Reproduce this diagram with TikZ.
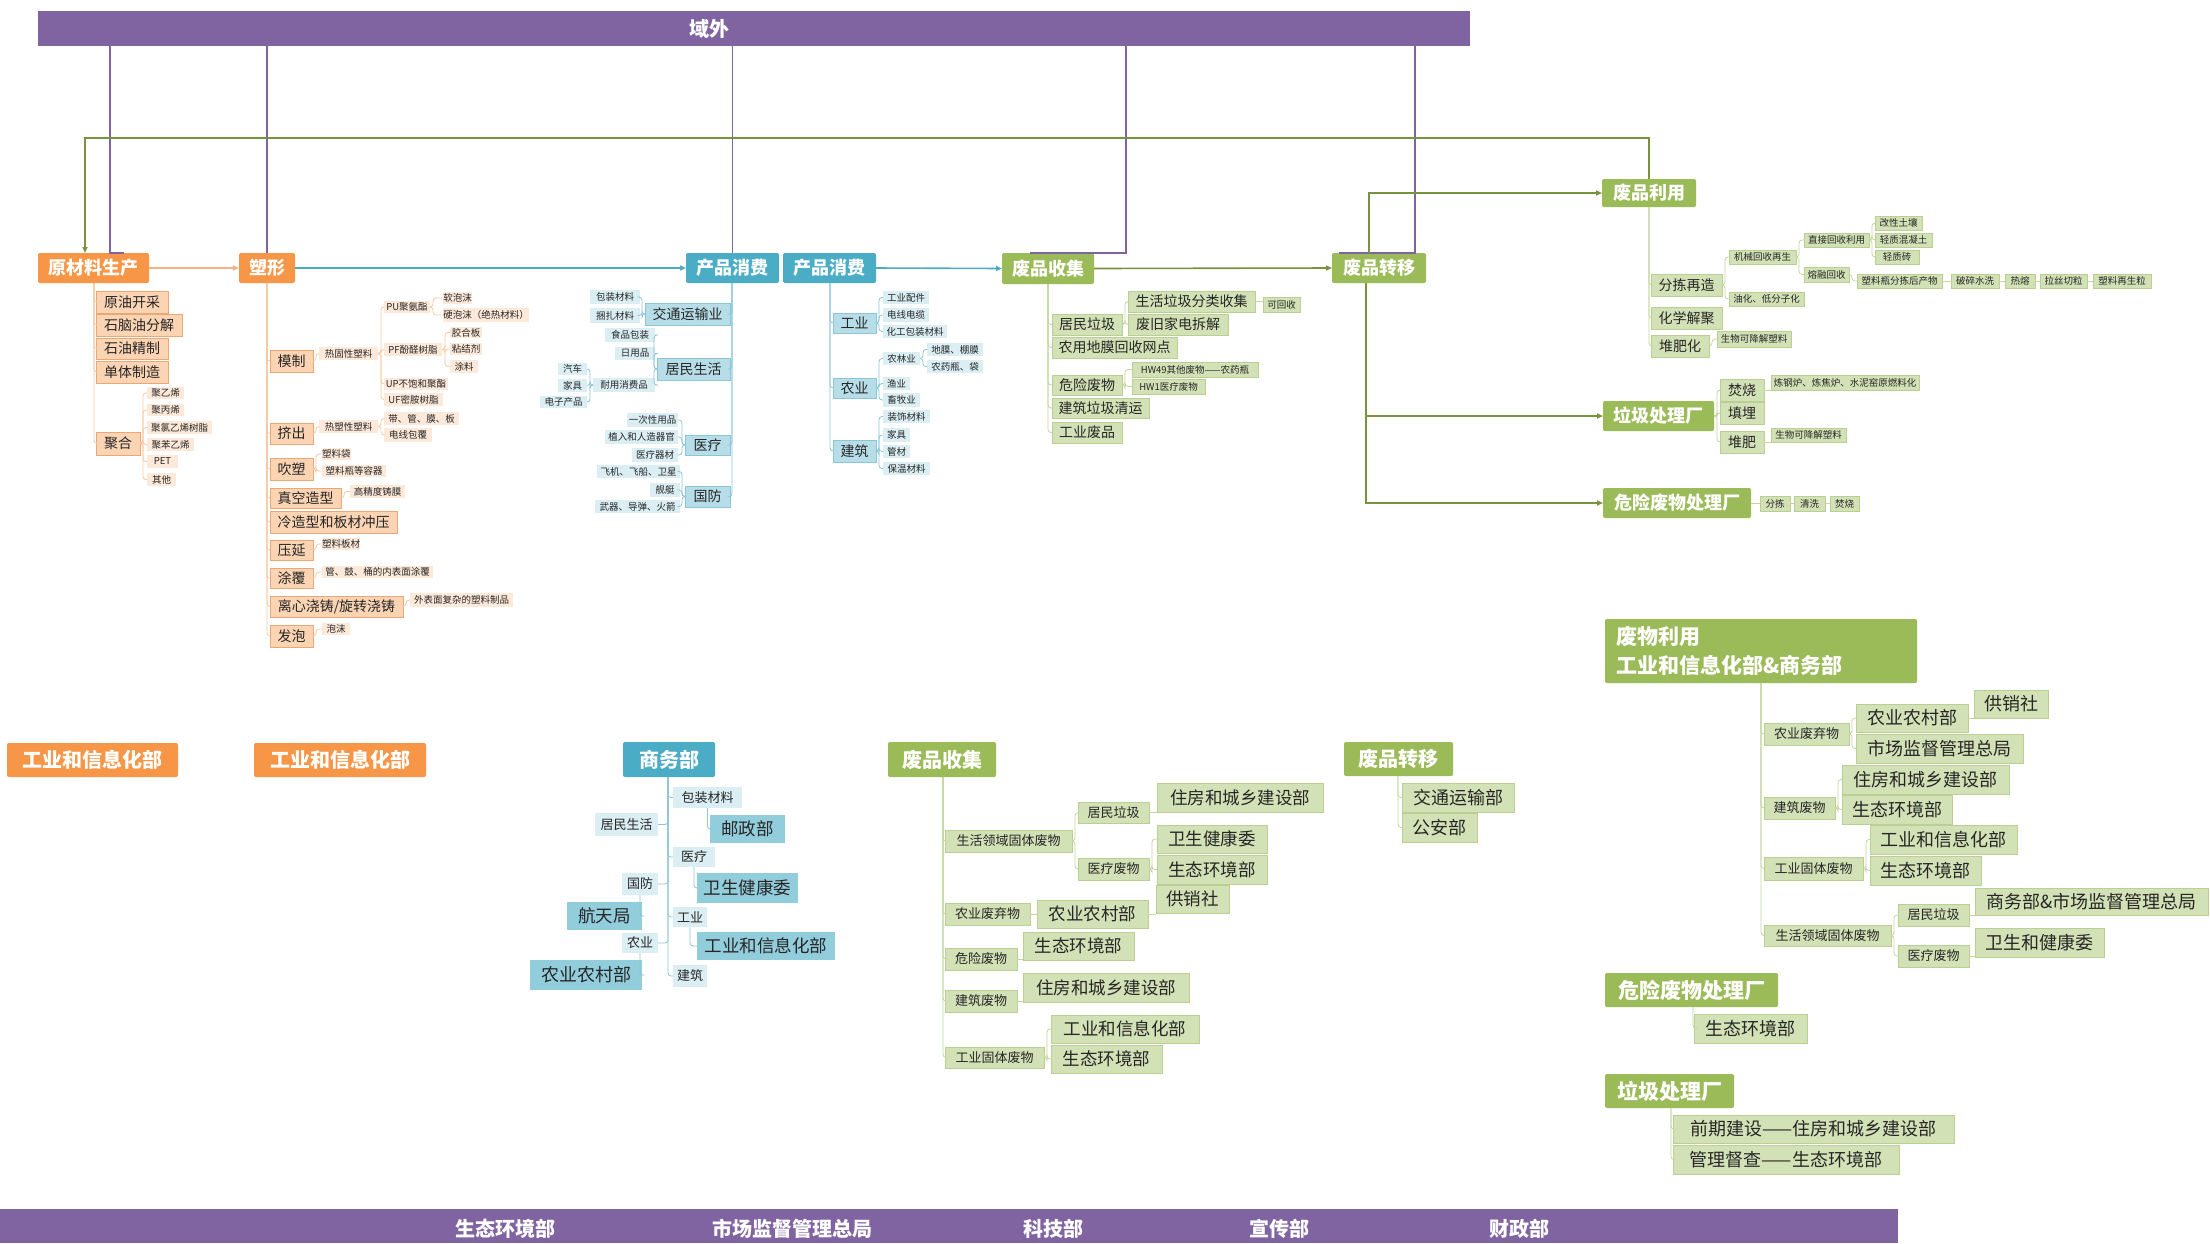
\documentclass[tikz,border=0pt]{standalone}
\usepackage{fontspec}
\setmainfont{Noto Sans CJK SC}
\usetikzlibrary{arrows.meta,calc}
\definecolor{orgH}{HTML}{F79646}
\definecolor{orgS}{HTML}{FBD4B4}
\definecolor{orgB}{HTML}{EBA777}
\definecolor{orgL}{HTML}{FDE9D9}
\definecolor{orgLn}{HTML}{F9C9A2}
\definecolor{orgA}{HTML}{F4B183}
\definecolor{bluH}{HTML}{4BACC6}
\definecolor{bluS}{HTML}{B7DEE8}
\definecolor{bluB}{HTML}{8CC6D6}
\definecolor{bluL}{HTML}{DAEEF3}
\definecolor{bluM}{HTML}{92CDDC}
\definecolor{bluLn}{HTML}{8CC6D6}
\definecolor{grnH}{HTML}{9BBB59}
\definecolor{grnS}{HTML}{D3E1B6}
\definecolor{grnB}{HTML}{BBCF94}
\definecolor{grnL}{HTML}{EBF1DE}
\definecolor{grnLn}{HTML}{C3D69B}
\definecolor{grnA}{HTML}{77933C}
\definecolor{purp}{HTML}{8064A2}
\definecolor{txt}{HTML}{262626}
\newcommand\myfs[1]{\fontsize{#1}{#1}\selectfont}
\newcommand\mybox[7]{\pgfmathsetmacro\mbw{#5-#3}\pgfmathsetmacro\mbh{#6-#4}%
  \node[#1,minimum width=\mbw pt,minimum height=\mbh pt,anchor=north west] (#2) at (#3,#4) {#7};}
\newcommand\brk[3]{\foreach \chn in {#3}{\draw[#1] (#2.east) -- ++(3,0) |- (\chn.west);}}
\newcommand\brkL[3]{\foreach \chn in {#3}{\draw[#1] (#2.west) -- ++(-3,0) |- (\chn.east);}}
\newcommand\trk[3]{\foreach \chn in {#3}{\draw[#1] (#2) |- (\chn.west);}}
\newcommand\trkL[3]{\foreach \chn in {#3}{\draw[#1] (#2) |- (\chn.east);}}
\newcommand\hz[3]{\draw[#1] (#2.east) -- (#2.east -| #3.west);}
\tikzset{
  base/.style={inner sep=0pt, outer sep=0pt, text=txt},
  hd/.style={base, text=white, rounded corners=2pt, font=\bfseries\myfs{18}},
  hdO/.style={hd, fill=orgH},
  hdB/.style={hd, fill=bluH},
  hdG/.style={hd, fill=grnH},
  subO/.style={base, fill=orgS, draw=orgB, line width=0.6pt, font=\myfs{14}},
  subB/.style={base, fill=bluS, draw=bluB, line width=0.6pt, font=\myfs{14}},
  subG/.style={base, fill=grnS, draw=grnB, line width=0.6pt, font=\myfs{14}},
  smO/.style={base, fill=orgL, font=\myfs{9.5}},
  smB/.style={base, fill=bluL, font=\myfs{9.5}},
  smG/.style={base, fill=grnS, draw=grnB, line width=0.5pt, font=\myfs{9.5}},
  bB/.style={base, fill=bluL, font=\myfs{13}},
  bM/.style={base, fill=bluM, font=\myfs{17.5}},
  gS/.style={base, fill=grnS, draw=grnB, line width=0.6pt, font=\myfs{13}},
  gM/.style={base, fill=grnS, draw=grnB, line width=0.6pt, font=\myfs{17.5}},
  ol/.style={draw=orgLn, line width=0.8pt, rounded corners=3pt},
  bl/.style={draw=bluLn, line width=0.8pt, rounded corners=3pt},
  gl/.style={draw=grnLn, line width=0.8pt, rounded corners=3pt},
  pl/.style={draw=purp, line width=1.2pt},
  arO/.style={draw=orgA, line width=1.6pt, -{Triangle[length=6pt,width=5pt]}},
  arB/.style={draw=bluH, line width=1.6pt, -{Triangle[length=6pt,width=5pt]}},
  arG/.style={draw=grnA, line width=1.6pt, -{Triangle[length=6pt,width=5pt]}},
  bartxt/.style={text=white, font=\bfseries\myfs{20}, inner sep=0pt}
}
\begin{document}
\begin{tikzpicture}[x=1pt,y=-1pt]
\useasboundingbox (0,0) rectangle (2210,1243);
\fill[white] (0,0) rectangle (2210,1243);

% ===== bars =====
\mybox{base,fill=purp}{yw}{38}{11}{1470}{46}{}
\node[bartxt] (ywt) at (709,29) {域外};
\mybox{base,fill=purp}{bb}{0}{1209}{1898}{1243}{}
\node[bartxt] (bt1) at (505,1229) {生态环境部};
\node[bartxt] (bt2) at (792,1229) {市场监督管理总局};
\node[bartxt] (bt3) at (1053,1229) {科技部};
\node[bartxt] (bt4) at (1279,1229) {宣传部};
\node[bartxt] (bt5) at (1519,1229) {财政部};

% ===== top row headers =====
\mybox{hdO}{yl}{38}{253}{149}{283}{原材料生产}
\mybox{hdO}{sx}{239}{253}{295}{283}{塑形}
\mybox{hdB}{cp1}{686}{253}{779}{283}{产品消费}
\mybox{hdB}{cp2}{783}{253}{876}{283}{产品消费}
\mybox{hdG}{fs}{1002}{253}{1094}{284}{废品收集}
\mybox{hdG}{fz}{1332}{253}{1426}{283}{废品转移}
\mybox{hdG}{fl}{1602}{179}{1696}{207}{废品利用}
\mybox{hdG}{lj}{1603}{401}{1714}{431}{垃圾处理厂}
\mybox{hdG}{wx}{1603}{488}{1751}{518}{危险废物处理厂}

% ===== 原材料生产 =====
\mybox{subO}{a1}{96}{291}{168}{313}{原油开采}
\mybox{subO}{a2}{96}{314}{182}{336}{石脑油分解}
\mybox{subO}{a3}{96}{338}{168}{359}{石油精制}
\mybox{subO}{a4}{96}{361}{168}{383}{单体制造}
\mybox{subO}{a5}{96}{432}{140}{455}{聚合}
\mybox{smO}{a51}{147}{387}{184}{399}{聚乙烯}
\mybox{smO}{a52}{147}{404}{184}{416}{聚丙烯}
\mybox{smO}{a53}{147}{421}{212}{434}{聚氯乙烯树脂}
\mybox{smO}{a54}{147}{438}{194}{451}{聚苯乙烯}
\mybox{smO}{a55}{147}{455}{178}{468}{PET}
\mybox{smO}{a56}{147}{473}{176}{486}{其他}

% ===== 塑形 =====
\mybox{subO}{b1}{270}{350}{313}{372}{模制}
\mybox{smO}{b11}{319}{347}{378}{360}{热固性塑料}
\mybox{smO}{b111}{384}{301}{430}{313}{PU聚氨酯}
\mybox{smO}{b112}{384}{343}{442}{356}{PF酚醛树脂}
\mybox{smO}{b113}{384}{378}{448}{390}{UP不饱和聚酯}
\mybox{smO}{b114}{384}{393}{443}{406}{UF密胺树脂}
\mybox{smO}{b1111}{443}{292}{472}{304}{软泡沫}
\mybox{smO}{b1112}{443}{308}{529}{322}{硬泡沫（绝热材料）}
\mybox{smO}{b1121}{450}{327}{482}{338}{胶合板}
\mybox{smO}{b1122}{450}{343}{482}{355}{粘结剂}
\mybox{smO}{b1123}{450}{360}{478}{373}{涂料}
\mybox{subO}{b2}{270}{423}{313}{444}{挤出}
\mybox{smO}{b21}{319}{420}{378}{433}{热塑性塑料}
\mybox{smO}{b211}{384}{412}{459}{425}{带、管、膜、板}
\mybox{smO}{b212}{384}{428}{432}{442}{电线包覆}
\mybox{subO}{b3}{270}{458}{313}{480}{吹塑}
\mybox{smO}{b31}{322}{448}{350}{460}{塑料袋}
\mybox{smO}{b32}{322}{465}{386}{477}{塑料瓶等容器}
\mybox{subO}{b4}{270}{488}{341}{508}{真空造型}
\mybox{smO}{b41}{350}{485}{405}{498}{高精度铸膜}
\mybox{subO}{b5}{270}{511}{397}{533}{冷造型和板材冲压}
\mybox{subO}{b6}{270}{540}{313}{560}{压延}
\mybox{smO}{b61}{322}{538}{358}{550}{塑料板材}
\mybox{subO}{b7}{270}{568}{313}{588}{涂覆}
\mybox{smO}{b71}{322}{566}{433}{578}{管、鼓、桶的内表面涂覆}
\mybox{subO}{b8}{270}{596}{403}{617}{离心浇铸/旋转浇铸}
\mybox{smO}{b81}{410}{593}{513}{607}{外表面复杂的塑料制品}
\mybox{subO}{b9}{270}{625}{313}{647}{发泡}
\mybox{smO}{b91}{322}{623}{350}{635}{泡沫}

% ===== 产品消费 left =====
\mybox{subB}{c1}{645}{303}{730}{325}{交通运输业}
\mybox{smB}{c11}{590}{290}{640}{304}{包装材料}
\mybox{smB}{c12}{590}{308}{640}{323}{捆扎材料}
\mybox{subB}{c2}{657}{358}{730}{380}{居民生活}
\mybox{smB}{c21}{605}{328}{655}{342}{食品包装}
\mybox{smB}{c22}{615}{347}{655}{360}{日用品}
\mybox{smB}{c23}{593}{378}{655}{392}{耐用消费品}
\mybox{smB}{c231}{558}{363}{587}{375}{汽车}
\mybox{smB}{c232}{558}{379}{587}{392}{家具}
\mybox{smB}{c233}{540}{396}{587}{408}{电子产品}
\mybox{subB}{c3}{685}{435}{730}{455}{医疗}
\mybox{smB}{c31}{627}{413}{678}{427}{一次性用品}
\mybox{smB}{c32}{605}{430}{678}{444}{植入和人造器官}
\mybox{smB}{c33}{632}{448}{678}{462}{医疗器材}
\mybox{subB}{c4}{685}{486}{730}{507}{国防}
\mybox{smB}{c41}{597}{465}{680}{478}{飞机、飞船、卫星}
\mybox{smB}{c42}{650}{483}{680}{497}{舰艇}
\mybox{smB}{c43}{595}{500}{680}{513}{武器、导弹、火箭}

% ===== 产品消费 right =====
\mybox{subB}{d1}{833}{313}{876}{333}{工业}
\mybox{smB}{d11}{883}{291}{929}{304}{工业配件}
\mybox{smB}{d12}{883}{308}{929}{322}{电线电缆}
\mybox{smB}{d13}{883}{325}{947}{338}{化工包装材料}
\mybox{subB}{d2}{833}{378}{876}{398}{农业}
\mybox{smB}{d21}{883}{352}{920}{365}{农林业}
\mybox{smB}{d22}{883}{377}{910}{390}{渔业}
\mybox{smB}{d23}{883}{393}{920}{407}{畜牧业}
\mybox{smB}{d211}{927}{343}{983}{356}{地膜、棚膜}
\mybox{smB}{d212}{927}{360}{983}{373}{农药瓶、袋}
\mybox{subB}{d3}{833}{440}{876}{462}{建筑}
\mybox{smB}{d31}{883}{410}{930}{423}{装饰材料}
\mybox{smB}{d32}{883}{428}{910}{442}{家具}
\mybox{smB}{d33}{883}{445}{910}{458}{管材}
\mybox{smB}{d34}{883}{462}{930}{475}{保温材料}

% ===== 废品收集 top =====
\mybox{subG}{e1}{1052}{314}{1122}{335}{居民垃圾}
\mybox{subG}{e11}{1128}{291}{1255}{312}{生活垃圾分类收集}
\mybox{smG}{e111}{1263}{297}{1300}{312}{可回收}
\mybox{subG}{e12}{1128}{314}{1228}{335}{废旧家电拆解}
\mybox{subG}{e2}{1052}{337}{1177}{358}{农用地膜回收网点}
\mybox{subG}{e3}{1052}{375}{1122}{395}{危险废物}
\mybox{smG}{e31}{1132}{362}{1258}{377}{HW49其他废物——农药瓶}
\mybox{smG}{e32}{1132}{379}{1205}{394}{HW1医疗废物}
\mybox{subG}{e4}{1052}{398}{1149}{418}{建筑垃圾清运}
\mybox{subG}{e5}{1052}{422}{1122}{443}{工业废品}

% ===== 废品利用 =====
\mybox{subG}{f1}{1651}{274}{1722}{296}{分拣再造}
\mybox{subG}{f2}{1651}{307}{1722}{329}{化学解聚}
\mybox{subG}{f3}{1651}{335}{1709}{357}{堆肥化}
\mybox{smG}{f11}{1729}{250}{1796}{264}{机械回收再生}
\mybox{smG}{f12}{1729}{292}{1804}{306}{油化、低分子化}
\mybox{smG}{f111}{1804}{233}{1869}{247}{直接回收利用}
\mybox{smG}{f112}{1804}{267}{1849}{282}{熔融回收}
\mybox{smG}{f1111}{1875}{216}{1922}{230}{改性土壤}
\mybox{smG}{f1112}{1875}{233}{1932}{247}{轻质混凝土}
\mybox{smG}{f1113}{1875}{250}{1919}{264}{轻质砖}
\mybox{smG}{g1}{1857}{274}{1942}{288}{塑料瓶分拣后产物}
\mybox{smG}{g2}{1951}{274}{1999}{288}{破碎水洗}
\mybox{smG}{g3}{2005}{274}{2035}{288}{热熔}
\mybox{smG}{g4}{2040}{274}{2087}{288}{拉丝切粒}
\mybox{smG}{g5}{2093}{274}{2151}{288}{塑料再生粒}
\mybox{smG}{f31}{1717}{331}{1791}{347}{生物可降解塑料}

% ===== 垃圾处理厂 / 危险废物处理厂 =====
\mybox{subG}{h1}{1720}{379}{1764}{401}{焚烧}
\mybox{subG}{h2}{1720}{402}{1764}{424}{填埋}
\mybox{subG}{h3}{1720}{431}{1764}{453}{堆肥}
\mybox{smG}{h11}{1771}{375}{1919}{390}{炼钢炉、炼焦炉、水泥窑原燃料化}
\mybox{smG}{h31}{1771}{428}{1846}{442}{生物可降解塑料}
\mybox{smG}{i1}{1760}{496}{1790}{511}{分拣}
\mybox{smG}{i2}{1794}{496}{1825}{511}{清洗}
\mybox{smG}{i3}{1830}{496}{1859}{511}{焚烧}

% ===== bottom: orange =====
\mybox{hdO,font=\bfseries\myfs{20}}{gx1}{7}{743}{178}{777}{工业和信息化部}
\mybox{hdO,font=\bfseries\myfs{20}}{gx2}{254}{743}{426}{777}{工业和信息化部}

% ===== bottom: 商务部 =====
\mybox{hdB,font=\bfseries\myfs{20}}{sw}{623}{742}{715}{777}{商务部}
\mybox{bB}{j1}{673}{787}{742}{808}{包装材料}
\mybox{bB}{j2}{673}{847}{715}{867}{医疗}
\mybox{bB}{j3}{673}{907}{707}{927}{工业}
\mybox{bB}{j4}{673}{965}{707}{987}{建筑}
\mybox{bM}{jy}{710}{815}{785}{843}{邮政部}
\mybox{bM}{jw}{697}{873}{798}{903}{卫生健康委}
\mybox{bM}{jg}{697}{932}{835}{960}{工业和信息化部}
\mybox{bB}{k1}{595}{813}{658}{836}{居民生活}
\mybox{bB}{k2}{622}{873}{658}{895}{国防}
\mybox{bB}{k3}{622}{933}{658}{953}{农业}
\mybox{bM}{kh}{567}{902}{642}{930}{航天局}
\mybox{bM,font=\myfs{18}}{kn}{530}{960}{642}{990}{农业农村部}

% ===== bottom: 废品收集 =====
\mybox{hdG,font=\bfseries\myfs{20}}{fs2}{888}{742}{996}{777}{废品收集}
\mybox{gS}{l1}{945}{830}{1072}{852}{生活领域固体废物}
\mybox{gS}{l11}{1078}{802}{1149}{823}{居民垃圾}
\mybox{gS}{l12}{1078}{858}{1149}{880}{医疗废物}
\mybox{gM}{m1}{1157}{783}{1323}{812}{住房和城乡建设部}
\mybox{gM}{m2}{1157}{825}{1267}{853}{卫生健康委}
\mybox{gM}{m3}{1157}{855}{1267}{884}{生态环境部}
\mybox{gM}{m4}{1156}{885}{1229}{913}{供销社}
\mybox{gS}{l2}{945}{903}{1030}{925}{农业废弃物}
\mybox{gM}{m5}{1037}{900}{1148}{928}{农业农村部}
\mybox{gS}{l3}{945}{948}{1017}{970}{危险废物}
\mybox{gM}{m6}{1023}{932}{1134}{960}{生态环境部}
\mybox{gS}{l4}{945}{990}{1017}{1012}{建筑废物}
\mybox{gM}{m7}{1023}{973}{1189}{1002}{住房和城乡建设部}
\mybox{gS}{l5}{945}{1047}{1044}{1068}{工业固体废物}
\mybox{gM}{m8}{1051}{1015}{1199}{1043}{工业和信息化部}
\mybox{gM}{m9}{1051}{1045}{1162}{1073}{生态环境部}

% ===== bottom: 废品转移 =====
\mybox{hdG,font=\bfseries\myfs{20}}{fz2}{1344}{742}{1453}{776}{废品转移}
\mybox{gM,font=\myfs{18}}{n1}{1402}{783}{1514}{812}{交通运输部}
\mybox{gM,font=\myfs{18}}{n2}{1402}{813}{1477}{842}{公安部}

% ===== bottom right =====
\node[hdG, font=\bfseries\fontsize{21}{29}\selectfont, align=left, text width=290pt,
      inner xsep=11pt, minimum height=64pt, anchor=north west] (fw) at (1605,619)
      {废物利用\\工业和信息化部\&商务部};
\mybox{gS}{o1}{1764}{723}{1849}{745}{农业废弃物}
\mybox{gM,font=\myfs{18}}{p1}{1856}{704}{1968}{732}{农业农村部}
\mybox{gM,font=\myfs{18}}{p3}{1974}{690}{2048}{718}{供销社}
\mybox{gM,font=\myfs{18}}{p2}{1856}{734}{2023}{763}{市场监督管理总局}
\mybox{gS}{o2}{1764}{797}{1835}{819}{建筑废物}
\mybox{gM,font=\myfs{18}}{p4}{1842}{765}{2009}{794}{住房和城乡建设部}
\mybox{gM,font=\myfs{18}}{p5}{1842}{795}{1952}{824}{生态环境部}
\mybox{gS}{o3}{1764}{857}{1863}{880}{工业固体废物}
\mybox{gM,font=\myfs{18}}{p6}{1870}{825}{2017}{854}{工业和信息化部}
\mybox{gM,font=\myfs{18}}{p7}{1870}{856}{1981}{885}{生态环境部}
\mybox{gS}{o4}{1764}{925}{1891}{946}{生活领域固体废物}
\mybox{gS}{q1}{1898}{904}{1969}{926}{居民垃圾}
\mybox{gS}{q2}{1898}{945}{1969}{967}{医疗废物}
\mybox{gM,font=\myfs{18}}{q11}{1975}{888}{2208}{915}{商务部\&市场监督管理总局}
\mybox{gM,font=\myfs{18}}{q21}{1975}{928}{2104}{957}{卫生和健康委}
\mybox{hdG,font=\bfseries\myfs{21}}{wx2}{1605}{973}{1778}{1007}{危险废物处理厂}
\mybox{gM,font=\myfs{18}}{r1}{1694}{1014}{1807}{1043}{生态环境部}
\mybox{hdG,font=\bfseries\myfs{21}}{lj2}{1605}{1074}{1734}{1108}{垃圾处理厂}
\mybox{gM,font=\myfs{18}}{s1}{1673}{1115}{1954}{1143}{前期建设——住房和城乡建设部}
\mybox{gM,font=\myfs{18}}{s2}{1673}{1145}{1899}{1174}{管理督查——生态环境部}

% ===== connectors: top level =====
\coordinate (u1) at (110,46);
\coordinate (u4) at (1126,46);
\coordinate (u5) at (1415,46);
\draw[pl] (u1) |- ([xshift=30pt]yl.north);
\draw[pl] (yw.south -| sx.north) -- (sx.north);
\draw[pl] (yw.south -| cp1.north) -- (cp1.north);
\draw[pl] (u4) |- ([xshift=-18pt]fs.north);
\draw[pl] (u5) |- ([xshift=-40pt]fz.north);

\coordinate (fb) at (85,138);
\draw[arG] (fl.north) |- (fb) -- ([xshift=-8.5pt]yl.north);
\draw[arG] ([xshift=-10pt]fz.north) |- (fl.west);
\draw[arG] ([xshift=-13pt]fz.south) |- (lj.west);
\draw[arG] ([xshift=-13pt]fz.south) |- (wx.west);

\draw[arO] (yl.east) -- (sx.west);
\draw[arB] (sx.east) -- (cp1.west);
\draw[arB] (cp2.east) -- (fs.west);
\draw[arG] (fs.east) -- (fz.west);

% 原材料生产
\coordinate (t1) at (94,283);
\trk{ol}{t1}{a1,a2,a3,a4,a5}
\brk{ol}{a5}{a51,a52,a53,a54,a55,a56}
% 塑形
\coordinate (t2) at (267,283);
\trk{ol}{t2}{b1,b2,b3,b4,b5,b6,b7,b8,b9}
\brk{ol}{b1}{b11}
\brk{ol}{b11}{b111,b112,b113,b114}
\brk{ol}{b111}{b1111,b1112}
\brk{ol}{b112}{b1121,b1122,b1123}
\brk{ol}{b2}{b21}
\brk{ol}{b21}{b211,b212}
\brk{ol}{b3}{b31,b32}
\brk{ol}{b4}{b41}
\brk{ol}{b6}{b61}
\brk{ol}{b7}{b71}
\brk{ol}{b8}{b81}
\brk{ol}{b9}{b91}
% 产品消费 left
\coordinate (t3) at (732,283);
\trkL{bl}{t3}{c1,c2,c3,c4}
\brkL{bl}{c1}{c11,c12}
\brkL{bl}{c2}{c21,c22,c23}
\brkL{bl}{c23}{c231,c232,c233}
\brkL{bl}{c3}{c31,c32,c33}
\brkL{bl}{c4}{c41,c42,c43}
% 产品消费 right
\coordinate (t4) at (830,283);
\trk{bl}{t4}{d1,d2,d3}
\brk{bl}{d1}{d11,d12,d13}
\brk{bl}{d2}{d21,d22,d23}
\brk{bl}{d21}{d211,d212}
\brk{bl}{d3}{d31,d32,d33,d34}
% 废品收集
\coordinate (t5) at (1048,284);
\trk{gl}{t5}{e1,e2,e3,e4,e5}
\brk{gl}{e1}{e11,e12}
\hz{gl}{e11}{e111}
\brk{gl}{e3}{e31,e32}
% 废品利用
\coordinate (t6) at (1649,207);
\trk{gl}{t6}{f1,f2,f3}
\brk{gl}{f1}{f11,f12}
\brk{gl}{f11}{f111,f112}
\brk{gl}{f111}{f1111,f1112,f1113}
\brk{gl}{f112}{g1}
\hz{gl}{g1}{g2}
\hz{gl}{g2}{g3}
\hz{gl}{g3}{g4}
\hz{gl}{g4}{g5}
\brk{gl}{f3}{f31}
% 垃圾处理厂
\brk{gl}{lj}{h1,h2,h3}
\hz{gl}{h1}{h11}
\hz{gl}{h3}{h31}
\hz{gl}{wx}{i1}
\hz{gl}{i1}{i2}
\hz{gl}{i2}{i3}

% bottom 商务部
\coordinate (t7) at (668,777);
\trk{bl}{t7}{j1,j2,j3,j4}
\trkL{bl}{t7}{k1,k2,k3}
\draw[bl] (j1.south) |- (jy.west);
\draw[bl] (j2.south) |- (jw.west);
\draw[bl] (j3.south) |- (jg.west);
\draw[bl] (k2.south) |- (kh.east);
\draw[bl] (k3.south) |- (kn.east);
% bottom 废品收集
\coordinate (t8) at (943,777);
\trk{gl}{t8}{l1,l2,l3,l4,l5}
\brk{gl}{l1}{l11,l12}
\hz{gl}{l11}{m1}
\brk{gl}{l12}{m2,m3}
\hz{gl}{l2}{m5}
\hz{gl}{m5}{m4}
\hz{gl}{l3}{m6}
\hz{gl}{l4}{m7}
\brk{gl}{l5}{m8,m9}
% bottom 废品转移
\coordinate (t9) at (1398,776);
\trk{gl}{t9}{n1,n2}
% bottom right
\coordinate (t10) at (1761,683);
\trk{gl}{t10}{o1,o2,o3,o4}
\brk{gl}{o1}{p1,p2}
\hz{gl}{p1}{p3}
\brk{gl}{o2}{p4,p5}
\brk{gl}{o3}{p6,p7}
\brk{gl}{o4}{q1,q2}
\hz{gl}{q1}{q11}
\hz{gl}{q2}{q21}
\coordinate (t11) at (1693,1007);
\trk{gl}{t11}{r1}
\coordinate (t12) at (1671,1108);
\trk{gl}{t12}{s1,s2}
\end{tikzpicture}
\end{document}
